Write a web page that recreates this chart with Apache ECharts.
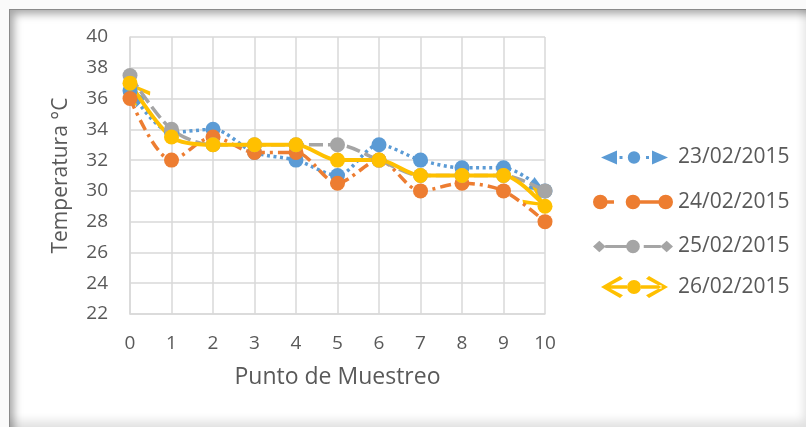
<!DOCTYPE html>
<html>
<head>
<meta charset="utf-8">
<script src="https://cdn.jsdelivr.net/npm/echarts@6/dist/echarts.min.js"></script>
<style>
html, body {
  margin: 0;
  padding: 0;
  background: #fafafa;
}
.frame {
  position: absolute;
  left: 9px;
  top: 9px;
  width: 797px;
  height: 418px;
  background: #fff;
  border-left: 1px solid #8a8a8a;
  border-top: 1px solid #8a8a8a;
  box-sizing: border-box;
  box-shadow: inset 7px 7px 8px -3px rgba(0,0,0,0.35), inset -8px -12px 10px -6px rgba(0,0,0,0.12);
}
#main {
  position: absolute;
  left: 0;
  top: 0;
  width: 806px;
  height: 427px;
}
</style>
</head>
<body>
<div class="frame"></div>
<div id="main"></div>
<script>
var puntos = ['0', '1', '2', '3', '4', '5', '6', '7', '8', '9', '10']
var fechas = ['23/02/2015', '24/02/2015', '25/02/2015', '26/02/2015']
var t23 = [36.5, 33.8, 34, 32.5, 32, 31, 33, 32, 31.5, 31.5, 30]
var t24 = [36, 32, 33.5, 32.5, 32.5, 30.5, 32, 30, 30.5, 30, 28]
var t25 = [37.5, 34, 33, 33, 33, 33, 32, 31, 31, 31, 30]
var t26 = [37, 33.5, 33, 33, 33, 32, 32, 31, 31, 31, 29]

var colores = ['#5b9bd5', '#ed7d31', '#a5a5a5', '#ffc000']
var gris = '#595959'
var fuente = 'Open Sans'

// iconos de leyenda dibujados como en Excel (flechas, ovalos, rombos)
var iconos = [
  'path://M0 7L16 0L16 14Z M18.5 5.5L21.5 5.5L21.5 8.5L18.5 8.5Z M39.2 7A6.2 6.2 0 1 1 26.8 7A6.2 6.2 0 1 1 39.2 7Z M45 5.5L48 5.5L48 8.5L45 8.5Z M67 7L51 0L51 14Z',
  'path://M15 7.5A7.5 7.5 0 1 1 0 7.5A7.5 7.5 0 1 1 15 7.5Z M14.5 5.8L21.5 5.8L21.5 9.2L14.5 9.2Z M48.5 7.5A7.5 7.5 0 1 1 33.5 7.5A7.5 7.5 0 1 1 48.5 7.5Z M48 5.8L67.5 5.8L67.5 9.2L48 9.2Z M82 7.5A7.5 7.5 0 1 1 67 7.5A7.5 7.5 0 1 1 82 7.5Z',
  'path://M0 7L6.5 1L13 7L6.5 13Z M12.5 5.5L34.5 5.5L34.5 8.5L12.5 8.5Z M48 7A7 7 0 1 1 34 7A7 7 0 1 1 48 7Z M52 5.5L69.5 5.5L69.5 8.5L52 8.5Z M69 7L75.5 1L82 7L75.5 13Z',
  'path://M0 11L19 0L22 2.8L6.5 11L22 19.2L19 22Z M6.5 9.3L26 9.3L26 12.7L6.5 12.7Z M40 11A7 7 0 1 1 26 11A7 7 0 1 1 40 11Z M40 9.3L60.5 9.3L60.5 12.7L40 12.7Z M67 11L48 0L45 2.8L60.5 11L45 19.2L48 22Z'
]
var anchos = [67, 80, 80, 67]
var altos = [14, 15, 14, 22]
var izq = [601, 593, 593, 601]
var centros = [154, 199, 243, 287]
var rellenos = [5, 0, 0, 5]

var trazos = [[3, 3.5], [11, 5, 3, 5], [14, 5], 'solid']
var anchosLinea = [3.5, 3.5, 3.5, 4]
var valores = [t23, t24, t25, t26]

// puntas de flecha en los extremos (solo azul y amarillo se ven)
var puntas = [
  { path: 'path://M16 7L0 0L0 14Z', size: [16, 14] },
  null,
  null,
  { path: 'path://M22 11L3 0L0 2.8L15.5 11L0 19.2L3 22Z', size: [22, 22] }
]

var leyendas = []
var series = []
for (var i = 0; i < fechas.length; i++) {
  leyendas.push({
    data: [{ name: fechas[i], icon: iconos[i] }],
    left: izq[i],
    top: centros[i] - altos[i] / 2,
    padding: 0,
    itemWidth: anchos[i],
    itemHeight: altos[i],
    itemStyle: { borderWidth: 0 },
    selectedMode: false,
    textStyle: {
      color: gris,
      fontFamily: fuente,
      fontSize: 21,
      padding: [0, 0, 0, rellenos[i]]
    }
  })
  series.push({
    name: fechas[i],
    type: 'line',
    data: valores[i],
    smooth: 0.3,
    symbol: 'circle',
    symbolSize: 15,
    itemStyle: { color: colores[i], borderWidth: 0 },
    lineStyle: { color: colores[i], width: anchosLinea[i], type: trazos[i], cap: 'butt' },
    emphasis: { disabled: true }
  })
}

let myChart = echarts.init(document.getElementById('main'))
myChart.setOption({
  animation: false,
  color: colores,
  legend: leyendas,
  grid: {
    left: 130,
    right: 261,
    top: 37,
    bottom: 113
  },
  xAxis: {
    type: 'category',
    data: puntos,
    boundaryGap: false,
    name: 'Punto de Muestreo',
    nameLocation: 'middle',
    nameGap: 52,
    nameTextStyle: { color: gris, fontFamily: fuente, fontSize: 23 },
    axisLine: { lineStyle: { color: '#d9d9d9', width: 1.5 } },
    axisTick: { show: false },
    axisLabel: { color: gris, fontFamily: fuente, fontSize: 19, margin: 20 },
    splitLine: { show: true, lineStyle: { color: '#d9d9d9', width: 1.5 } }
  },
  yAxis: {
    type: 'value',
    min: 22,
    max: 40,
    interval: 2,
    name: 'Temperatura °C',
    nameLocation: 'middle',
    nameGap: 58,
    nameTextStyle: { color: gris, fontFamily: fuente, fontSize: 21 },
    axisLine: { show: true, lineStyle: { color: '#d9d9d9', width: 1.5 } },
    axisTick: { show: false },
    axisLabel: { color: gris, fontFamily: fuente, fontSize: 19, margin: 22 },
    splitLine: { lineStyle: { color: '#d9d9d9', width: 1.5 } }
  },
  series: series
})

// orientar las puntas segun la direccion del primer y ultimo tramo en pixeles
function punta (serie, desde, hasta, forma) {
  var a = myChart.convertToPixel({ seriesIndex: serie }, [desde, valores[serie][desde]])
  var b = myChart.convertToPixel({ seriesIndex: serie }, [hasta, valores[serie][hasta]])
  var dx = b[0] - a[0]
  var dy = b[1] - a[1]
  var len = Math.sqrt(dx * dx + dy * dy)
  var half = forma.size[0] / 2
  return {
    coord: [hasta, valores[serie][hasta]],
    symbol: forma.path,
    symbolSize: forma.size,
    symbolRotate: Math.atan2(-dy, dx) * 180 / Math.PI,
    symbolOffset: [-dx / len * half, -dy / len * half]
  }
}
var extra = []
for (var j = 0; j < fechas.length; j++) {
  if (!puntas[j]) {
    extra.push({})
    continue
  }
  var n = valores[j].length - 1
  extra.push({
    markPoint: {
      z: 1,
      silent: true,
      label: { show: false },
      itemStyle: { color: colores[j] },
      data: [punta(j, 1, 0, puntas[j]), punta(j, n - 1, n, puntas[j])]
    }
  })
}
myChart.setOption({ series: extra })
window.onresize = myChart.resize
</script>
</body>
</html>
